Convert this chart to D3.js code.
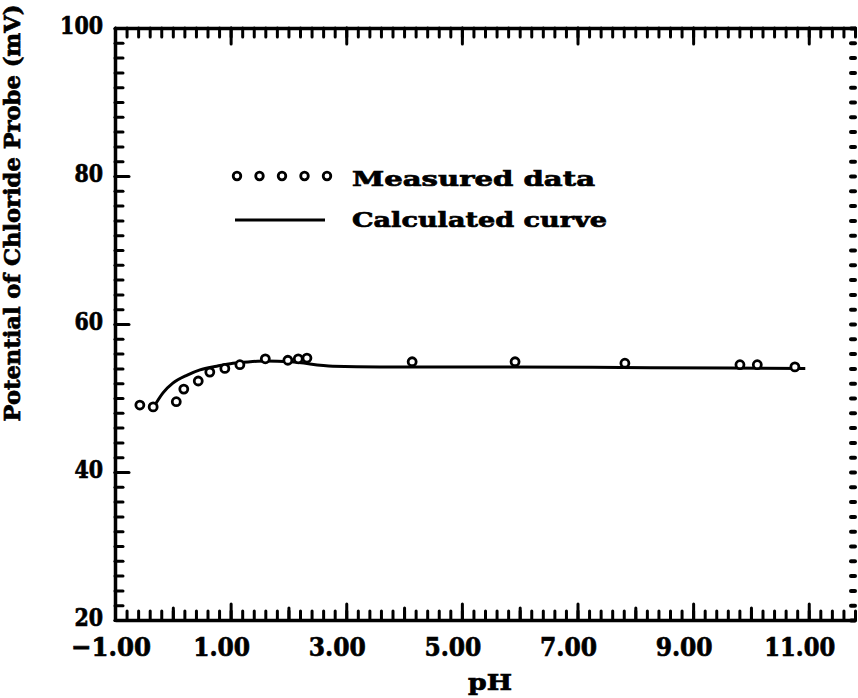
<!DOCTYPE html>
<html>
<head>
<meta charset="utf-8">
<script src="https://cdn.jsdelivr.net/npm/d3@7"></script>
<style>
  html, body { margin: 0; padding: 0; background: #fff; }
  svg { display: block; }
  text { font-family: "DejaVu Serif", serif; font-weight: bold; fill: #000; stroke: #000; stroke-width: 0.7px; }
</style>
</head>
<body>
<svg id="chart" width="858" height="698"></svg>
<script>
// Measured chloride-probe potential versus pH
const measuredPH = [-0.57, -0.34, 0.06, 0.19, 0.44, 0.64, 0.90, 1.16, 1.60, 1.99, 2.17, 2.32, 4.14, 5.92, 7.82, 9.81, 10.11, 10.76];
const measuredMV = [49.05, 48.8, 49.5, 51.2, 52.3, 53.5, 54.0, 54.5, 55.3, 55.1, 55.3, 55.4, 54.9, 54.9, 54.7, 54.5, 54.5, 54.2];

// Calculated curve
const curvePH = [-0.31, -0.17, 0.00, 0.25, 0.47, 0.76, 1.04, 1.34, 1.60, 2.03, 2.77, 3.58, 5.66, 8.26, 10.94];
const curveMV = [49.05, 50.7, 52.0, 53.1, 53.8, 54.3, 54.7, 54.9, 55.0, 54.9, 54.3, 54.2, 54.2, 54.1, 54.0];

// Axis ticks and labels
const xTickValues = [-1, 1, 3, 5, 7, 9, 11];
const xTickLabels = ["\u22121.00", "1.00", "3.00", "5.00", "7.00", "9.00", "11.00"];
const yTickValues = [20, 40, 60, 80, 100];
const yTickLabels = ["20", "40", "60", "80", "100"];

const svg = d3.select("#chart");
const plotL = 115, plotR = 855, plotT = 28, plotB = 620;

const x = d3.scaleLinear().domain([-1, 11.8]).range([plotL, plotR]);
const y = d3.scaleLinear().domain([20, 100]).range([plotB, plotT]);

const xMinor = d3.range(-1, 11.81, 0.2).map(v => +v.toFixed(2));
const xMid = d3.range(0, 12, 2);
const yMinor = d3.range(20, 100.1, 2);

function styleAxis(g, width, keepDomain) {
  g.selectAll("text").remove();
  g.selectAll(".tick line").attr("stroke", "#000").attr("stroke-width", width)
    .attr("stroke-linecap", "round");
  if (keepDomain) g.select(".domain").attr("stroke", "#000").attr("stroke-width", 3.5);
  else g.select(".domain").remove();
}

// Left axis: ticks point inward
svg.append("g").attr("transform", `translate(${plotL},0)`)
  .call(d3.axisRight(y).tickValues(yMinor).tickSize(8).tickSizeOuter(0))
  .call(g => styleAxis(g, 3, true));
svg.append("g").attr("transform", `translate(${plotL},0)`)
  .call(d3.axisRight(y).tickValues(yTickValues).tickSize(14).tickSizeOuter(0))
  .call(g => styleAxis(g, 3, false));

// Right side: short dotted ticks only
svg.append("g").attr("transform", `translate(${plotR},0)`)
  .call(d3.axisLeft(y).tickValues(yMinor).tickSize(4).tickSizeOuter(0))
  .call(g => styleAxis(g, 4, false));

// Top axis
svg.append("g").attr("transform", `translate(0,${plotT})`)
  .call(d3.axisBottom(x).tickValues(xMinor).tickSize(9).tickSizeOuter(0))
  .call(g => styleAxis(g, 3, true));
svg.append("g").attr("transform", `translate(0,${plotT})`)
  .call(d3.axisBottom(x).tickValues(xTickValues).tickSize(16).tickSizeOuter(0))
  .call(g => styleAxis(g, 3, false));

// Bottom axis
svg.append("g").attr("transform", `translate(0,${plotB})`)
  .call(d3.axisTop(x).tickValues(xMinor).tickSize(9).tickSizeOuter(0))
  .call(g => styleAxis(g, 3, true));
svg.append("g").attr("transform", `translate(0,${plotB})`)
  .call(d3.axisTop(x).tickValues(xMid).tickSize(12).tickSizeOuter(0))
  .call(g => styleAxis(g, 3, false));
svg.append("g").attr("transform", `translate(0,${plotB})`)
  .call(d3.axisTop(x).tickValues(xTickValues).tickSize(16).tickSizeOuter(0))
  .call(g => styleAxis(g, 3, false));

// Tick labels
svg.append("g").selectAll("text").data(xTickValues).join("text")
  .attr("x", (d, i) => x(d) - (i === 0 ? 4 : 9))
  .attr("y", 656)
  .attr("text-anchor", "middle")
  .attr("font-size", 26)
  .attr("textLength", (d, i) => xTickLabels[i].length > 4 ? (i === 0 ? 80 : 71) : 57)
  .attr("lengthAdjust", "spacingAndGlyphs")
  .text((d, i) => xTickLabels[i]);

svg.append("g").selectAll("text").data(yTickValues).join("text")
  .attr("x", 103)
  .attr("y", d => y(d) + 6)
  .attr("text-anchor", "end")
  .attr("font-size", 24)
  .attr("textLength", (d, i) => yTickLabels[i].length * 14.3)
  .attr("lengthAdjust", "spacingAndGlyphs")
  .text((d, i) => yTickLabels[i]);

// Axis titles
svg.append("text")
  .attr("x", 490).attr("y", 690)
  .attr("text-anchor", "middle")
  .attr("font-size", 23)
  .attr("textLength", 44).attr("lengthAdjust", "spacingAndGlyphs")
  .text("pH");

svg.append("text")
  .attr("transform", "translate(20,213) rotate(-90)")
  .attr("text-anchor", "middle")
  .attr("font-size", 22)
  .attr("textLength", 417).attr("lengthAdjust", "spacingAndGlyphs")
  .text("Potential of Chloride Probe (mV)");

// Calculated curve
const curvePts = curvePH.map((p, i) => [p, curveMV[i]]);
svg.append("path")
  .datum(curvePts)
  .attr("fill", "none")
  .attr("stroke", "#000")
  .attr("stroke-width", 3)
  .attr("d", d3.line().x(d => x(d[0])).y(d => y(d[1])).curve(d3.curveMonotoneX));

// Measured points
svg.append("g").selectAll("circle")
  .data(measuredPH.map((p, i) => [p, measuredMV[i]]))
  .join("circle")
  .attr("cx", d => x(d[0]))
  .attr("cy", d => y(d[1]))
  .attr("r", 4)
  .attr("fill", "#fff")
  .attr("stroke", "#000")
  .attr("stroke-width", 2.8);

// Legend
const legend = svg.append("g");
legend.selectAll("circle").data(d3.range(5)).join("circle")
  .attr("cx", d => 237 + d * 22.5)
  .attr("cy", 176)
  .attr("r", 3.8)
  .attr("fill", "#fff")
  .attr("stroke", "#000")
  .attr("stroke-width", 2.8);
legend.append("text")
  .attr("x", 352).attr("y", 186)
  .attr("font-size", 21)
  .attr("textLength", 243).attr("lengthAdjust", "spacingAndGlyphs")
  .text("Measured data");
legend.append("line")
  .attr("x1", 235).attr("x2", 325)
  .attr("y1", 220).attr("y2", 220)
  .attr("stroke", "#000").attr("stroke-width", 3);
legend.append("text")
  .attr("x", 352).attr("y", 227)
  .attr("font-size", 21)
  .attr("textLength", 255).attr("lengthAdjust", "spacingAndGlyphs")
  .text("Calculated curve");
</script>
</body>
</html>
